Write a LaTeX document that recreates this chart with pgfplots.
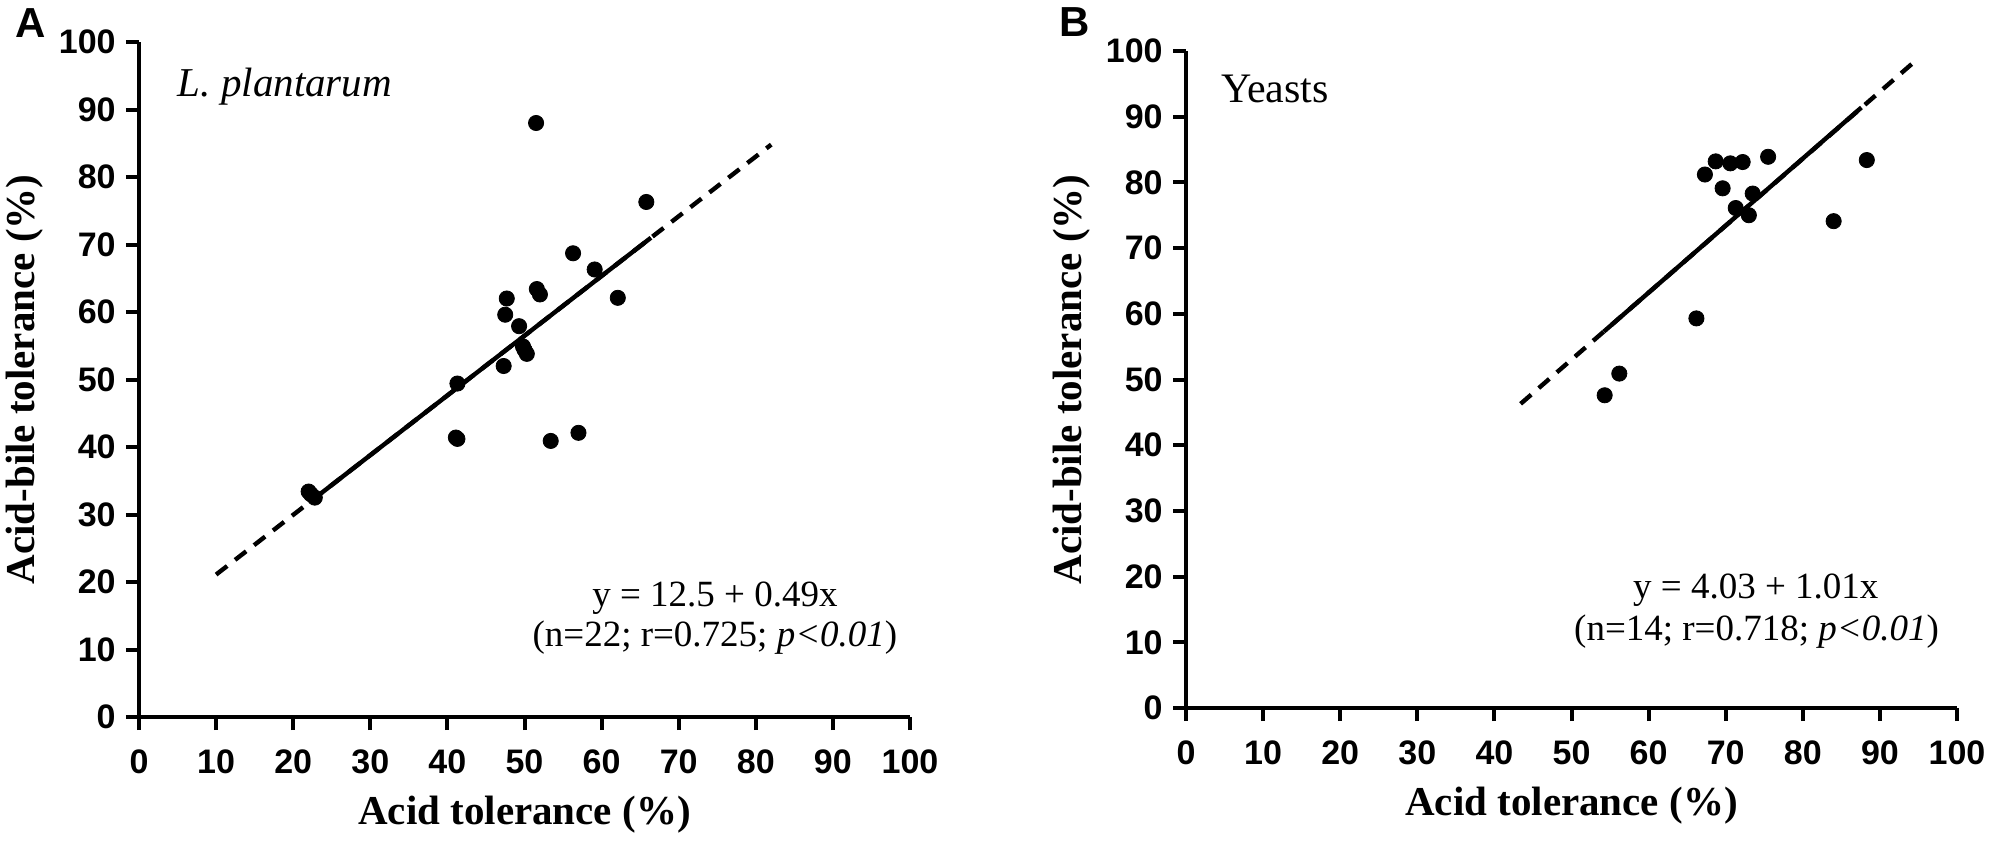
\documentclass[border=0pt]{standalone}
\usepackage{fontspec}
\setmainfont{Liberation Serif}
\setsansfont{Liberation Sans}
\usepackage{pgfplots}
\pgfplotsset{compat=1.18}
\begin{document}
\begin{tikzpicture}
\useasboundingbox (0,0) rectangle (1001pt,421.5pt);
\pgfplotsset{myax/.style={
  scale only axis, width=385.5pt,
  xmin=0,xmax=100,ymin=0,ymax=100,
  axis x line*=bottom, axis y line*=left,
  axis line style={line width=2pt, black},
  xtick={0,10,...,100}, ytick={0,10,...,100},
  tick align=outside, major tick length=6.5pt,
  every tick/.style={black, line width=2pt},
  tick label style={font=\fontsize{17}{17}\selectfont\sffamily\bfseries},
  /pgf/number format/assume math mode=true,
  xticklabel style={inner sep=0pt, anchor=north, yshift=-9.5pt},
  yticklabel style={inner sep=0pt, anchor=east, xshift=-5pt},
  label style={font=\fontsize{20.5}{24}\selectfont\bfseries},
  xlabel style={at={(axis description cs:0.5,0)}, anchor=base, yshift=-53.5pt},
  ylabel style={at={(axis description cs:0,0.5)}, anchor=center, yshift=57pt},
  xlabel={Acid tolerance (\%)},
  ylabel={Acid-bile tolerance (\%)},
  clip=false,
  scatter/.style={only marks, mark=*, mark size=3.8pt, black},
  fitsolid/.style={no marks, black, line width=2.2pt},
  fitdash/.style={no marks, black, line width=2.2pt, dash pattern=on 7pt off 5pt},
}}
\node[anchor=base west, inner sep=0pt, font=\fontsize{21}{21}\selectfont\sffamily\bfseries] at (7.5pt,402.5pt) {A};
\node[anchor=base west, inner sep=0pt, font=\fontsize{21}{21}\selectfont\sffamily\bfseries] at (529.5pt,403pt) {B};
% Panel A
\begin{axis}[myax, at={(69.5pt,63pt)}, anchor=south west, height=337.5pt]
\addplot[fitdash] coordinates {(10,21.1) (82,84.8)};
\addplot[fitsolid] coordinates {(23,32.6) (66.4,71.0)};
\addplot[scatter] coordinates {
(51.5,88.0) (65.8,76.3) (56.3,68.7) (59.1,66.3) (51.6,63.4) (52.0,62.6)
(62.1,62.1) (47.7,62.0) (47.5,59.6) (49.3,57.9) (49.8,54.9) (50.3,53.8)
(47.3,52.0) (41.3,49.4) (41.3,41.2) (41.1,41.4) (53.4,40.9) (57.0,42.1)
(22.0,33.4) (22.8,32.5) (22.3,33.0) (50.0,54.4)};
\node[anchor=base west, inner sep=0pt, font=\fontsize{20.5}{20.5}\selectfont\itshape] at (axis cs:5,91.9) {L. plantarum};
\node[anchor=base, inner sep=0pt, font=\fontsize{18.5}{18.5}\selectfont] at (axis cs:74.7,16.3) {y = 12.5 + 0.49x};
\node[anchor=base, inner sep=0pt, font=\fontsize{18.5}{18.5}\selectfont] at (axis cs:74.7,10.4) {(n=22; r=0.725; \textit{p<0.01})};
\end{axis}
% Panel B
\begin{axis}[myax, at={(593pt,67.5pt)}, anchor=south west, height=328.5pt]
\addplot[fitdash] coordinates {(43.4,46.3) (94.6,98.5)};
\addplot[fitsolid] coordinates {(54.2,57.3) (87.6,91.4)};
\addplot[scatter] coordinates {
(68.7,83.2) (70.6,82.9) (72.2,83.1) (75.5,83.9) (88.3,83.4) (67.3,81.2)
(69.6,79.1) (73.5,78.3) (71.3,76.1) (73.0,75.0) (84.0,74.1) (66.2,59.3)
(56.2,50.9) (54.3,47.6)};
\node[anchor=base west, inner sep=0pt, font=\fontsize{21}{21}\selectfont] at (axis cs:4.5,92.2) {Yeasts};
\node[anchor=base, inner sep=0pt, font=\fontsize{18.5}{18.5}\selectfont] at (axis cs:73.9,16.6) {y = 4.03 + 1.01x};
\node[anchor=base, inner sep=0pt, font=\fontsize{18.5}{18.5}\selectfont] at (axis cs:74.0,10.3) {(n=14; r=0.718; \textit{p<0.01})};
\end{axis}
\end{tikzpicture}
\end{document}
